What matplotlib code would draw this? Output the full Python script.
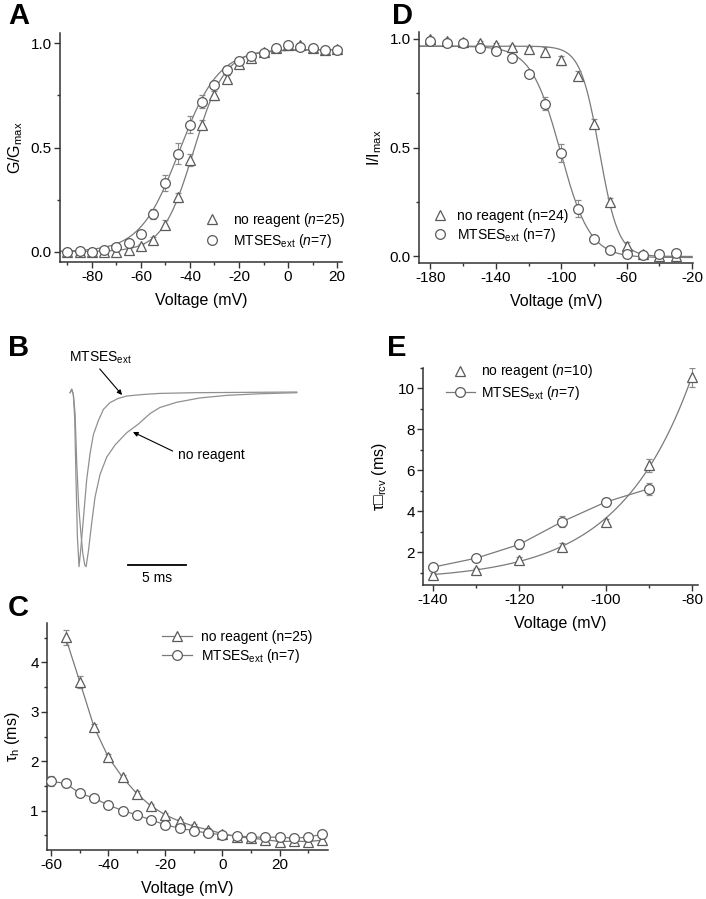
import numpy as np
import matplotlib
matplotlib.use("Agg")
import matplotlib.pyplot as plt
from matplotlib.lines import Line2D
from matplotlib.ticker import MultipleLocator

plt.rcParams['font.family'] = ['Liberation Sans', 'DejaVu Sans']
plt.rcParams['mathtext.fontset'] = 'custom'
plt.rcParams['mathtext.rm'] = 'Liberation Sans'
plt.rcParams['mathtext.it'] = 'Liberation Sans:italic'
plt.rcParams['mathtext.bf'] = 'Liberation Sans:bold'
plt.rcParams['axes.unicode_minus'] = False

# ---- A: activation ----
va = [-90, -85, -80, -75, -70, -65, -60, -55, -50, -45, -40, -35, -30, -25, -20, -15, -10, -5, 0, 5, 10, 15, 20]
ga_none = [0.0, 0.0, 0.0, 0.0, 0.0, 0.01, 0.027, 0.055, 0.13, 0.26, 0.44, 0.61, 0.75, 0.83, 0.90, 0.93, 0.96, 0.98, 0.99, 0.99, 0.98, 0.97, 0.975]
ga_none_err = [0.01, 0.01, 0.01, 0.01, 0.01, 0.01, 0.01, 0.015, 0.02, 0.02, 0.03, 0.02, 0.02, 0.02, 0.02, 0.02, 0.01, 0.01, 0.01, 0.01, 0.01, 0.01, 0.01]
ga_mts = [0.0, 0.005, 0.0, 0.01, 0.02, 0.04, 0.085, 0.18, 0.33, 0.47, 0.61, 0.72, 0.80, 0.87, 0.915, 0.94, 0.955, 0.98, 0.99, 0.985, 0.98, 0.97, 0.97]
ga_mts_err = [0.01, 0.01, 0.01, 0.01, 0.01, 0.01, 0.01, 0.025, 0.04, 0.05, 0.04, 0.03, 0.02, 0.02, 0.01, 0.01, 0.01, 0.01, 0.01, 0.01, 0.01, 0.01, 0.01]
fitA_none = (-38.5, 6.3, 0.97)   # V1/2, k, Gmax
fitA_mts = (-44.3, 8.0, 0.97)

# ---- D: inactivation ----
vd = [-180, -170, -160, -150, -140, -130, -120, -110, -100, -90, -80, -70, -60, -50, -40, -30]
id_none = [0.997, 0.99, 0.985, 0.98, 0.97, 0.96, 0.95, 0.94, 0.90, 0.83, 0.61, 0.25, 0.046, 0.01, 0.0, 0.0]
id_none_err = [0.01, 0.01, 0.01, 0.01, 0.01, 0.01, 0.01, 0.02, 0.02, 0.02, 0.02, 0.02, 0.02, 0.01, 0.01, 0.01]
id_mts = [0.99, 0.98, 0.98, 0.955, 0.945, 0.91, 0.835, 0.70, 0.475, 0.22, 0.08, 0.03, 0.012, 0.005, 0.01, 0.017]
id_mts_err = [0.01, 0.01, 0.01, 0.01, 0.01, 0.01, 0.01, 0.03, 0.04, 0.04, 0.01, 0.01, 0.01, 0.01, 0.01, 0.01]
fitD_none = (-76.7, 5.8, 0.965, 0.0)   # V1/2, k, top, bottom
fitD_mts = (-100.5, 9.0, 0.965, -0.005)

# ---- B: current traces (normalized current vs time in ms) ----
tb_mts = [-0.14, 0.0, 0.14, 0.26, 0.37, 0.49, 0.63, 0.78, 1.0, 1.29, 1.58, 1.87, 2.3, 2.73, 3.3, 4.0, 4.74, 6.18, 7.6, 10.5, 19.4]
ib_mts = [0.0, 0.02, -0.01, -0.15, -0.5, -0.83, -1.0, -0.9, -0.73, -0.5, -0.35, -0.24, -0.16, -0.096, -0.057, -0.033, -0.019, -0.01, -0.004, 0.0, 0.004]
tb_none = [-0.14, 0.0, 0.14, 0.29, 0.43, 0.6, 0.78, 0.95, 1.12, 1.24, 1.44, 1.72, 2.01, 2.44, 3.02, 3.74, 4.74, 5.75, 6.75, 7.6, 9.05, 11.06, 13.4, 16.2, 19.4]
ib_none = [0.0, 0.02, -0.01, -0.12, -0.40, -0.65, -0.80, -0.92, -0.99, -1.0, -0.91, -0.75, -0.60, -0.47, -0.37, -0.30, -0.23, -0.18, -0.12, -0.085, -0.055, -0.03, -0.015, -0.006, 0.0]

# ---- C: tau_h ----
vc_none = [-55, -50, -45, -40, -35, -30, -25, -20, -15, -10, -5, 0, 5, 10, 15, 20, 25, 30, 35]
tc_none = [4.51, 3.61, 2.69, 2.08, 1.67, 1.34, 1.09, 0.91, 0.78, 0.68, 0.61, 0.53, 0.47, 0.44, 0.41, 0.37, 0.38, 0.37, 0.40]
tc_none_err = [0.15, 0.12, 0.07, 0.06, 0.05, 0.05, 0.05, 0.04, 0.04, 0.04, 0.04, 0.04, 0.04, 0.04, 0.04, 0.04, 0.04, 0.04, 0.04]
vc_mts = [-60, -55, -50, -45, -40, -35, -30, -25, -20, -15, -10, -5, 0, 5, 10, 15, 20, 25, 30, 35]
tc_mts = [1.59, 1.55, 1.35, 1.25, 1.11, 1.0, 0.91, 0.81, 0.71, 0.64, 0.59, 0.54, 0.51, 0.49, 0.46, 0.46, 0.46, 0.44, 0.46, 0.52]
tc_mts_err = [0.1, 0.08, 0.04, 0.04, 0.04, 0.03, 0.03, 0.03, 0.03, 0.04, 0.04, 0.04, 0.03, 0.03, 0.03, 0.03, 0.03, 0.03, 0.03, 0.03]

# ---- E: tau recovery ----
ve_none = [-140, -130, -120, -110, -100, -90, -80]
te_none = [0.91, 1.13, 1.62, 2.28, 3.47, 6.24, 10.54]
te_none_err = [0.1, 0.1, 0.15, 0.15, 0.15, 0.3, 0.45]
ve_mts = [-140, -130, -120, -110, -100, -90]
te_mts = [1.27, 1.71, 2.38, 3.5, 4.45, 5.1]
te_mts_err = [0.1, 0.1, 0.2, 0.25, 0.2, 0.3]
fitE_none = (0.63, 0.28, 16.8)   # offset, amplitude, slope (ref -140 mV)

EDGE = '#5a5a5a'
LINE = '#7a7a7a'
ERR = '#8a8a8a'
SPINE = '#333333'


def style(ax):
    for s in ['top', 'right']:
        ax.spines[s].set_visible(False)
    for s in ['left', 'bottom']:
        ax.spines[s].set_color(SPINE)
        ax.spines[s].set_linewidth(1.1)
    ax.tick_params(which='major', direction='out', length=4, width=1, color=SPINE,
                   labelsize=11, pad=2)
    ax.tick_params(which='minor', direction='out', length=2.5, width=1, color=SPINE)


def pts(ax, x, y, e, marker, ls='none'):
    ax.errorbar(x, y, yerr=e, fmt=marker, ls=ls, color=LINE, lw=0.9,
                ms=7, mfc='white', mec=EDGE, mew=0.9,
                ecolor=ERR, elinewidth=0.8, capsize=2, zorder=3)


def mk(marker, line=False):
    return Line2D([], [], marker=marker, ls='-' if line else 'none', color=LINE, lw=0.9,
                  ms=7, mfc='white', mec=EDGE, mew=0.9)


fig = plt.figure(figsize=(7.06, 8.99), dpi=100)

# ---------------- A ----------------
axA = fig.add_axes([60 / 706, 1 - 262 / 899, 282 / 706, 229 / 899])
style(axA)
vv = np.linspace(-93, 22, 300)
for vh, k, top in (fitA_none, fitA_mts):
    axA.plot(vv, top / (1 + np.exp((vh - vv) / k)), color=LINE, lw=0.9, zorder=2)
pts(axA, va, ga_none, ga_none_err, '^')
pts(axA, va, ga_mts, ga_mts_err, 'o')
axA.set_xlim(-93, 22)
axA.set_ylim(-0.05, 1.05)
axA.xaxis.set_major_locator(MultipleLocator(20))
axA.xaxis.set_minor_locator(MultipleLocator(10))
axA.yaxis.set_major_locator(MultipleLocator(0.5))
axA.yaxis.set_minor_locator(MultipleLocator(0.25))
axA.set_xlabel('Voltage (mV)', fontsize=11.5, labelpad=6)
axA.set_ylabel('G/G$_{\\rm max}$', fontsize=11.5, labelpad=4)
axA.legend([mk('^'), mk('o')], ['no reagent ($\\it{n}$=25)', 'MTSES$_{\\rm ext}$ ($\\it{n}$=7)'],
           loc='center left', bbox_to_anchor=(0.514, 0.138), frameon=False, fontsize=10,
           handlelength=1.0, handletextpad=1.0, borderpad=0, borderaxespad=0, labelspacing=0.25)
fig.text(8 / 706, 1 - 16 / 899, 'A', fontsize=21, fontweight='bold', va='center')

# ---------------- D ----------------
axD = fig.add_axes([419 / 706, 1 - 263 / 899, 274 / 706, 231 / 899])
style(axD)
vv = np.linspace(-187, -20, 300)
for vh, k, top, bot in (fitD_none, fitD_mts):
    axD.plot(vv, bot + (top - bot) / (1 + np.exp((vv - vh) / k)), color=LINE, lw=0.9, zorder=2)
pts(axD, vd, id_none, id_none_err, '^')
pts(axD, vd, id_mts, id_mts_err, 'o')
axD.set_xlim(-187, -19.5)
axD.set_ylim(-0.03, 1.03)
axD.xaxis.set_major_locator(MultipleLocator(40, offset=20))
axD.xaxis.set_minor_locator(MultipleLocator(20))
axD.yaxis.set_major_locator(MultipleLocator(0.5))
axD.yaxis.set_minor_locator(MultipleLocator(0.25))
axD.set_xlabel('Voltage (mV)', fontsize=11.5, labelpad=6)
axD.set_ylabel('I/I$_{\\rm max}$', fontsize=11.5, labelpad=4)
axD.legend([mk('^'), mk('o')], ['no reagent (n=24)', 'MTSES$_{\\rm ext}$ (n=7)'],
           loc='center left', bbox_to_anchor=(0.051, 0.158), frameon=False, fontsize=10,
           handlelength=1.0, handletextpad=0.72, borderpad=0, borderaxespad=0, labelspacing=0.25)
fig.text(392 / 706, 1 - 16 / 899, 'D', fontsize=21, fontweight='bold', va='center')

# ---------------- B ----------------
axB = fig.add_axes([60 / 706, 1 - 590 / 899, 250 / 706, 250 / 899])
axB.set_xlim(-1.01, 20.54)
axB.set_ylim(-1.134, 0.303)
axB.axis('off')
axB.plot(tb_none, ib_none, color='#909090', lw=0.9)
axB.plot(tb_mts, ib_mts, color='#909090', lw=0.9)
axB.plot([4.85, 9.85], [-0.99, -0.99], color='black', lw=1.3)
axB.text(7.35, -1.065, '5 ms', fontsize=10, ha='center', va='center')
axB.annotate('MTSES$_{\\rm ext}$', xy=(4.34, -0.013), xytext=(-0.23, 0.20),
             fontsize=10, ha='left', va='center',
             arrowprops=dict(arrowstyle='-|>', color='black', lw=0.8, mutation_scale=7,
                             shrinkA=0, shrinkB=0, relpos=(0.45, 0.0)))
axB.annotate('no reagent', xy=(5.28, -0.226), xytext=(9.16, -0.358),
             fontsize=10, ha='left', va='center',
             arrowprops=dict(arrowstyle='-|>', color='black', lw=0.8, mutation_scale=7,
                             shrinkA=2, shrinkB=0, relpos=(0.0, 0.6)))
fig.text(8 / 706, 1 - 348 / 899, 'B', fontsize=21, fontweight='bold', va='center')

# ---------------- C ----------------
axC = fig.add_axes([47 / 706, 1 - 850 / 899, 281 / 706, 227 / 899])
style(axC)
pts(axC, vc_none, tc_none, tc_none_err, '^', ls='-')
pts(axC, vc_mts, tc_mts, tc_mts_err, 'o', ls='-')
axC.set_xlim(-61.5, 37)
axC.set_ylim(0.2, 4.8)
axC.xaxis.set_major_locator(MultipleLocator(20))
axC.xaxis.set_minor_locator(MultipleLocator(10))
axC.yaxis.set_major_locator(MultipleLocator(1))
axC.yaxis.set_minor_locator(MultipleLocator(0.5))
axC.set_xlabel('Voltage (mV)', fontsize=11.5, labelpad=6)
axC.set_ylabel('τ$_{\\rm h}$ (ms)', fontsize=11.5, labelpad=6)
axC.legend([mk('^', True), mk('o', True)], ['no reagent (n=25)', 'MTSES$_{\\rm ext}$ (n=7)'],
           loc='center left', bbox_to_anchor=(0.409, 0.892), frameon=False, fontsize=10,
           handlelength=2.16, handletextpad=0.65, borderpad=0, borderaxespad=0, labelspacing=0.25)
fig.text(8 / 706, 1 - 608 / 899, 'C', fontsize=21, fontweight='bold', va='center')

# ---------------- E ----------------
axE = fig.add_axes([423 / 706, 1 - 585 / 899, 275 / 706, 217 / 899])
style(axE)
vv = np.linspace(-140, -80, 200)
c0, a0, s0 = fitE_none
axE.plot(vv, c0 + a0 * np.exp((vv + 140) / s0), color=LINE, lw=0.9, zorder=2)
pts(axE, ve_none, te_none, te_none_err, '^')
pts(axE, ve_mts, te_mts, te_mts_err, 'o', ls='-')
axE.set_xlim(-142.3, -78.6)
axE.set_ylim(0.4, 11.0)
axE.xaxis.set_major_locator(MultipleLocator(20))
axE.xaxis.set_minor_locator(MultipleLocator(10))
axE.yaxis.set_major_locator(MultipleLocator(2))
axE.yaxis.set_minor_locator(MultipleLocator(1))
axE.set_xlabel('Voltage (mV)', fontsize=11.5, labelpad=6)
axE.set_ylabel('τ□$_{\\rm rcv}$ (ms)', fontsize=11.5, labelpad=6)
axE.legend([mk('^'), mk('o', True)], ['no reagent ($\\it{n}$=10)', 'MTSES$_{\\rm ext}$ ($\\it{n}$=7)'],
           loc='center left', bbox_to_anchor=(0.082, 0.935), frameon=False, fontsize=10,
           handlelength=2.09, handletextpad=0.43, borderpad=0, borderaxespad=0, labelspacing=0.25)
fig.text(387 / 706, 1 - 348 / 899, 'E', fontsize=21, fontweight='bold', va='center')

fig.savefig('out.png', dpi=100)
